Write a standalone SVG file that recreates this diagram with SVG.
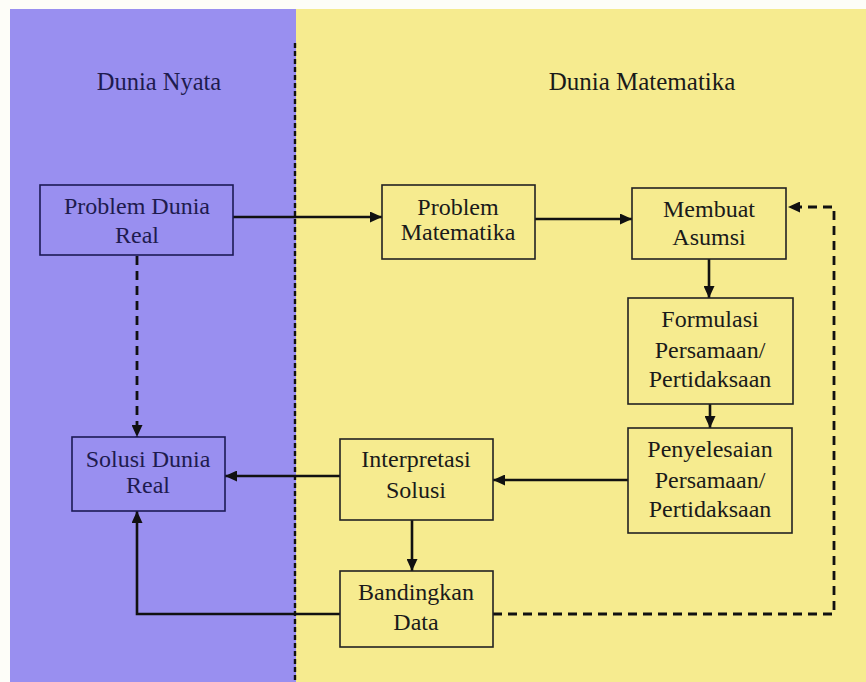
<svg xmlns="http://www.w3.org/2000/svg" width="866" height="682" viewBox="0 0 866 682" font-family="'Liberation Serif', 'DejaVu Serif', serif">
<style>
.box{stroke-width:1.6}
.bl{fill:none;stroke:#1c1a55}
.yl{fill:none;stroke:#222}
text{font-family:'Liberation Serif','DejaVu Serif',serif;font-size:24px;text-anchor:middle}
.tb{fill:#1e1b4e}
.ty{fill:#1a1a1a}
.c{fill:none;stroke:#111;stroke-width:2.6}
.d{fill:none;stroke:#111;stroke-width:2.8;stroke-dasharray:9 6}
</style>
<defs>
<marker id="ah" markerUnits="userSpaceOnUse" markerWidth="13" markerHeight="11" refX="12" refY="5.5" orient="auto">
<path d="M0,0 L12,5.5 L0,11 z" fill="#111"/>
</marker>
</defs>
<g id="background">
<rect x="0" y="0" width="866" height="682" fill="#fdfdf8"/>
<rect x="10" y="9" width="286" height="673" fill="#998ff0"/>
<rect x="296" y="9" width="570" height="673" fill="#f6eb8f"/>
<line x1="295" y1="43" x2="295" y2="682" stroke="#111" stroke-width="2.4" stroke-dasharray="5 3"/>
<text class="tb" x="159" y="90" style="font-size:24.5px">Dunia Nyata</text>
<text class="ty" x="642" y="90" style="font-size:25px">Dunia Matematika</text>
</g>
<g id="connectors">
<line class="c" x1="233" y1="217" x2="382" y2="217" marker-end="url(#ah)"/>
<line class="c" x1="535" y1="219" x2="632" y2="219" marker-end="url(#ah)"/>
<line class="c" x1="709" y1="259" x2="709" y2="298" marker-end="url(#ah)"/>
<line class="c" x1="710" y1="404" x2="710" y2="428" marker-end="url(#ah)"/>
<line class="c" x1="628" y1="480" x2="493" y2="480" marker-end="url(#ah)"/>
<line class="c" x1="340" y1="476" x2="225" y2="476" marker-end="url(#ah)"/>
<line class="c" x1="412" y1="520" x2="412" y2="571" marker-end="url(#ah)"/>
<polyline class="c" points="340,614 137,614 137,511" marker-end="url(#ah)"/>
<line class="d" x1="137" y1="256" x2="137" y2="437" marker-end="url(#ah)"/>
<polyline class="d" points="493,614 834,614 834,207 788,207" marker-end="url(#ah)"/>
</g>
<g id="problem-dunia-real">
<rect class="box bl" x="40" y="185" width="193" height="70"/>
<text class="tb" x="137" y="214">Problem Dunia</text>
<text class="tb" x="137" y="243">Real</text>
</g>
<g id="problem-matematika">
<rect class="box yl" x="382" y="185" width="153" height="74"/>
<text class="ty" x="458" y="215">Problem</text>
<text class="ty" x="458" y="240">Matematika</text>
</g>
<g id="membuat-asumsi">
<rect class="box yl" x="632" y="188" width="154" height="71"/>
<text class="ty" x="709" y="217">Membuat</text>
<text class="ty" x="709" y="245">Asumsi</text>
</g>
<g id="formulasi">
<rect class="box yl" x="628" y="298" width="165" height="106"/>
<text class="ty" x="710" y="327">Formulasi</text>
<text class="ty" x="710" y="358">Persamaan/</text>
<text class="ty" x="710" y="387">Pertidaksaan</text>
</g>
<g id="penyelesaian">
<rect class="box yl" x="628" y="428" width="164" height="105"/>
<text class="ty" x="710" y="457">Penyelesaian</text>
<text class="ty" x="710" y="488">Persamaan/</text>
<text class="ty" x="710" y="517">Pertidaksaan</text>
</g>
<g id="interpretasi-solusi">
<rect class="box yl" x="340" y="439" width="153" height="81"/>
<text class="ty" x="416" y="467">Interpretasi</text>
<text class="ty" x="416" y="498">Solusi</text>
</g>
<g id="solusi-dunia-real">
<rect class="box bl" x="72" y="437" width="153" height="74"/>
<text class="tb" x="148" y="467">Solusi Dunia</text>
<text class="tb" x="148" y="493">Real</text>
</g>
<g id="bandingkan-data">
<rect class="box yl" x="340" y="571" width="153" height="76"/>
<text class="ty" x="416" y="600">Bandingkan</text>
<text class="ty" x="416" y="630">Data</text>
</g>
</svg>
